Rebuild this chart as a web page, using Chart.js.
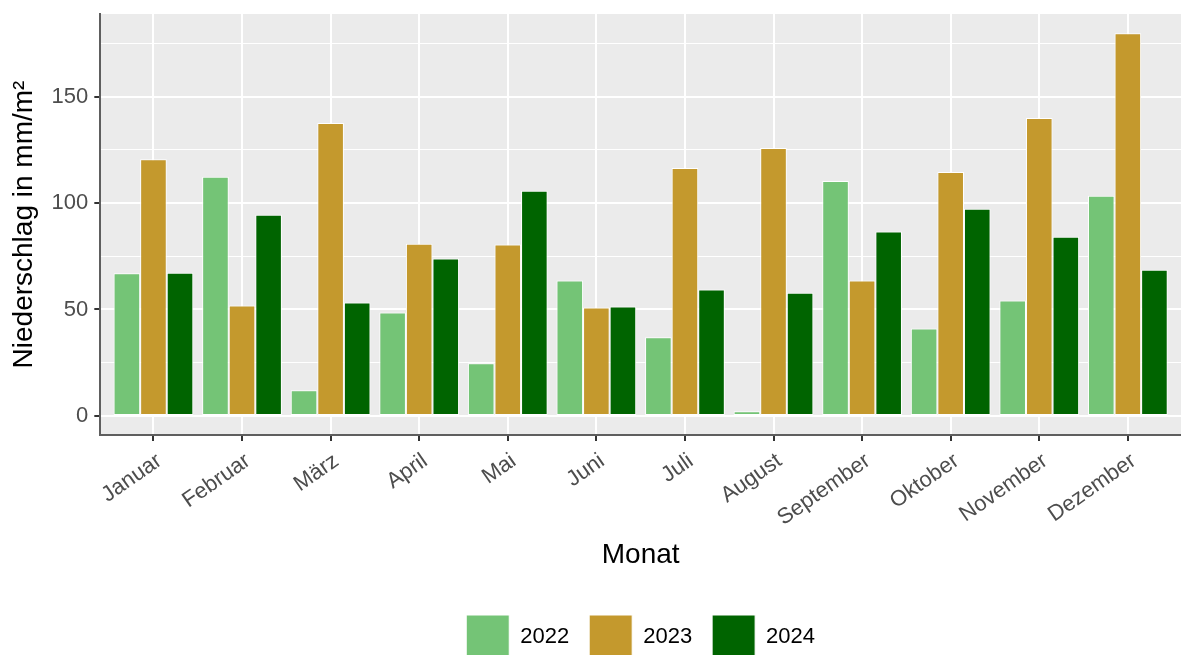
<!DOCTYPE html>
<html>
<head>
<meta charset="utf-8">
<script src="https://cdn.jsdelivr.net/npm/chart.js@4.4.1/dist/chart.umd.min.js"></script>
<style>
  html, body { margin: 0; padding: 0; background: #ffffff; }
  #wrap { width: 1181px; height: 655px; }
</style>
</head>
<body>
<div id="wrap"><canvas id="c" width="1181" height="655"></canvas></div>
<script>
const months = ['Januar', 'Februar', 'März', 'April', 'Mai', 'Juni', 'Juli', 'August', 'September', 'Oktober', 'November', 'Dezember'];
const years = ['2022', '2023', '2024'];
const values2022 = [67.0, 112.3, 12.0, 48.6, 24.7, 63.6, 36.9, 2.2, 110.4, 41.1, 54.2, 103.4];
const values2023 = [120.6, 51.9, 137.6, 80.9, 80.5, 50.9, 116.5, 125.9, 63.6, 114.6, 140.0, 179.8];
const values2024 = [67.3, 94.5, 53.3, 73.9, 105.8, 51.4, 59.4, 57.9, 86.6, 97.3, 84.2, 68.7];
const yGridValues = [0, 25, 50, 75, 100, 125, 150, 175];
const yLabelValues = [0, 50, 100, 150];
const seriesColors = ['#74C476', '#C4992D', '#006400'];

const FONT = "'Liberation Sans', Arial, Helvetica, sans-serif";
const allSeries = [values2022, values2023, values2024];

const panelBg = {
  id: 'panelBg',
  afterLayout(chart) {
    const lg = chart.legend;
    if (lg) {
      const a = chart.chartArea;
      const shift = (a.left + a.right) / 2 - (lg.left + lg.right) / 2;
      lg.left += shift;
      lg.right += shift;
    }
  },
  beforeDraw(chart) {
    const a = chart.chartArea;
    const ctx = chart.ctx;
    ctx.save();
    ctx.fillStyle = '#EBEBEB';
    ctx.fillRect(a.left, a.top, a.right - a.left, a.bottom - a.top);
    ctx.restore();
  }
};

new Chart(document.getElementById('c'), {
  type: 'bar',
  data: {
    datasets: years.map((y, k) => ({
      label: y,
      data: allSeries[k].map((v, i) => ({ x: i + 1, y: v })),
      backgroundColor: seriesColors[k],
      borderColor: '#FFFFFF',
      borderWidth: 1,
      borderSkipped: false,
      categoryPercentage: 0.9,
      barPercentage: 1.0
    }))
  },
  options: {
    responsive: false,
    animation: false,
    layout: { padding: { top: 14, right: 0, left: 7, bottom: -13 } },
    plugins: {
      legend: {
        position: 'bottom',
        labels: {
          boxWidth: 43,
          boxHeight: 43,
          padding: 20,
          color: '#000000',
          font: { family: FONT, size: 22 }
        }
      },
      tooltip: { enabled: false }
    },
    scales: {
      x: {
        type: 'linear',
        offset: false,
        min: 0.4,
        max: 12.6,
        afterBuildTicks: (axis) => { axis.ticks = months.map((m, i) => ({ value: i + 1 })); },
        ticks: {
          autoSkip: false,
          maxRotation: 35,
          minRotation: 35,
          padding: 7,
          labelOffset: 6,
          color: '#4D4D4D',
          font: { family: FONT, size: 22 },
          callback: (v) => months[Math.round(v) - 1]
        },
        grid: {
          offset: false,
          color: '#FFFFFF',
          lineWidth: 2,
          tickLength: 6,
          tickColor: '#333333',
          tickWidth: 2
        },
        border: { display: true, color: '#5E5E5E', width: 2 },
        title: {
          display: true,
          text: 'Monat',
          color: '#000000',
          font: { family: FONT, size: 28 },
          padding: { top: 0, bottom: 23 }
        }
      },
      y: {
        type: 'linear',
        min: -9,
        max: 188.8,
        afterBuildTicks: (axis) => { axis.ticks = yGridValues.map(v => ({ value: v })); },
        afterFit: (scale) => { scale.paddingTop = 0; scale.paddingBottom = 0; },
        ticks: {
          padding: 6,
          color: '#4D4D4D',
          font: { family: FONT, size: 22 },
          callback: (v) => yLabelValues.includes(v) ? String(v) : ''
        },
        grid: {
          color: '#FFFFFF',
          lineWidth: (ctx) => (ctx.tick && yLabelValues.includes(ctx.tick.value)) ? 2 : 1,
          tickLength: 6,
          tickColor: (ctx) => (ctx.tick && yLabelValues.includes(ctx.tick.value)) ? '#333333' : 'rgba(0,0,0,0)',
          tickWidth: 2
        },
        border: { display: true, color: '#5E5E5E', width: 2 },
        title: {
          display: true,
          text: 'Niederschlag in mm/m²',
          color: '#000000',
          font: { family: FONT, size: 28 },
          padding: { top: 0, bottom: 5 }
        }
      }
    }
  },
  plugins: [panelBg]
});
</script>
</body>
</html>
